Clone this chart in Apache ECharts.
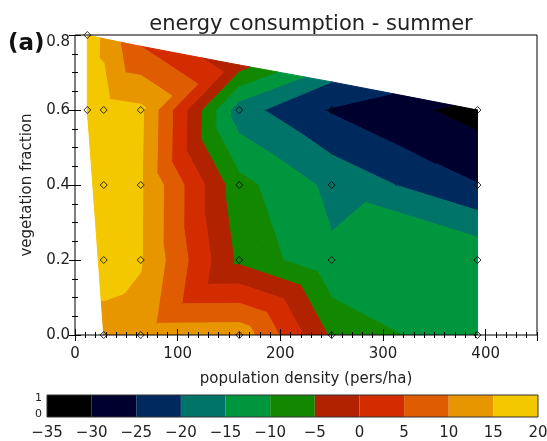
<!DOCTYPE html>
<html>
<head>
<meta charset="utf-8">
<script src="https://cdn.jsdelivr.net/npm/echarts@6/dist/echarts.min.js"></script>
<style>html,body{margin:0;padding:0;background:#fff}#c{width:547px;height:441px}</style>
</head>
<body>
<div id="c"></div>
<script>
// ---- data ----
const densities = [12, 28, 64, 160, 250, 392];           // pers/ha
const vegFractions = [0.0, 0.2, 0.4, 0.6];
const energyAtVeg00 = [null, 14.5, 13.0, 13.2, -5.8, -14.5];
const energyAtVeg02 = [null, 15.6, 15.4, -6.2, -14.2, -10.7];
const energyAtVeg04 = [null, 17.5, 15.5, -8.4, -16.3, -24.8];
const energyAtVeg06 = [17.7, 17.0, 16.0, -18.0, -25.5, -32.0];
const energyRows = [energyAtVeg00, energyAtVeg02, energyAtVeg04, energyAtVeg06];
// upper boundary of the sampled domain (maximum vegetation fraction for each density)
const maxVegFraction = [0.80, 0.79, 0.77, 0.72, 0.675, 0.60];
const energyAtMaxVeg = [18.0, 14.0, 5.0, -3.0, -20.0, -32.0];
// triangulation diagonal of each full grid cell: 1 = lower-left to upper-right, 0 = upper-left to lower-right
const cellDiagonals = [
  [null, 1, 1, 1, 0],
  [null, 1, 1, 1, 0],
  [null, 1, 1, 1, 0]
];
const levels = [-35, -30, -25, -20, -15, -10, -5, 0, 5, 10, 15, 20];
const levelColors = ['#000000', '#00002e', '#002a5e', '#007468', '#00963e', '#128800',
                     '#b02200', '#d22c00', '#e05c00', '#e89600', '#f3c800'];
const xTickValues = [0, 100, 200, 300, 400];
const yTickValues = [0.0, 0.2, 0.4, 0.6, 0.8];

// ---- triangulation of the irregular sample points ----
function node(c, r) {
  const v = energyRows[r][c];
  return v == null ? null : [densities[c], vegFractions[r], v];
}
function topNode(c) { return [densities[c], maxVegFraction[c], energyAtMaxVeg[c]]; }
const tris = [];
for (let r = 0; r < vegFractions.length - 1; r++) {
  for (let c = 0; c < densities.length - 1; c++) {
    const BL = node(c, r), BR = node(c + 1, r), TL = node(c, r + 1), TR = node(c + 1, r + 1);
    if (BL && BR && TL && TR) {
      if (cellDiagonals[r][c] === 1) { tris.push([BL, BR, TR], [BL, TR, TL]); }
      else { tris.push([BL, BR, TL], [BR, TR, TL]); }
    }
  }
}
// left hull fan: from the extra low-density node at the top grid row down column 1
{
  const top = vegFractions.length - 1;
  const apex = node(0, top);
  for (let r = 0; r < top; r++) tris.push([apex, node(1, r), node(1, r + 1)]);
}
// strip between the top grid row and the upper boundary
{
  const top = vegFractions.length - 1;
  for (let c = 0; c < densities.length - 1; c++) {
    const BL = node(c, top), BR = node(c + 1, top), TL = topNode(c), TR = topNode(c + 1);
    if (TR[1] <= BR[1]) { tris.push([BL, BR, TL]); }
    else { tris.push([BL, BR, TR], [BL, TR, TL]); }
  }
}

// ---- filled contour bands (linear interpolation inside each triangle) ----
function clip(poly, level, keepAbove) {
  const out = [];
  for (let i = 0; i < poly.length; i++) {
    const a = poly[i], b = poly[(i + 1) % poly.length];
    const ina = keepAbove ? a[2] >= level : a[2] <= level;
    const inb = keepAbove ? b[2] >= level : b[2] <= level;
    if (ina) out.push(a);
    if (ina !== inb) {
      const t = (level - a[2]) / (b[2] - a[2]);
      out.push([a[0] + t * (b[0] - a[0]), a[1] + t * (b[1] - a[1]), level]);
    }
  }
  return out;
}
const polys = [];
tris.forEach(tri => {
  levelColors.forEach((col, k) => {
    const lo = k === 0 ? -Infinity : levels[k];
    const hi = k === levelColors.length - 1 ? Infinity : levels[k + 1];
    let p = tri;
    if (isFinite(lo)) p = clip(p, lo, true);
    if (p.length >= 3 && isFinite(hi)) p = clip(p, hi, false);
    if (p.length >= 3) polys.push({ pts: p, color: col });
  });
});

// sample markers: grid nodes plus the boundary nodes that sit on a grid fraction
const samplePoints = [];
energyRows.forEach((row, r) => row.forEach((v, c) => { if (v != null) samplePoints.push([densities[c], vegFractions[r]]); }));
maxVegFraction.forEach((f, c) => {
  if (yTickValues.some(t => Math.abs(t - f) < 1e-9) && !vegFractions.some(t => Math.abs(t - f) < 1e-9)) samplePoints.push([densities[c], f]);
});

const bandData = levelColors.map((col, k) => [levels[k], levels[k + 1]]);

// ---- chart ----
const FONT = 'DejaVu Sans';
const TXT = '#222';
const chart = echarts.init(document.getElementById('c'));

function axisX(pos, interval, tickLen, labels, extra) {
  return Object.assign({
    gridIndex: 0, type: 'value', min: 0, max: 450, interval: interval, position: pos, z: 10,
    axisLine: { show: false },
    axisTick: { show: true, inside: true, length: tickLen, lineStyle: { color: '#000', width: 1 } },
    axisLabel: { show: labels },
    splitLine: { show: false }
  }, extra || {});
}
function axisY(pos, interval, tickLen, labels, extra) {
  return Object.assign({
    gridIndex: 0, type: 'value', min: 0, max: 0.8, interval: interval, position: pos, z: 10,
    axisLine: { show: false },
    axisTick: { show: true, inside: true, length: tickLen, lineStyle: { color: '#000', width: 1 } },
    axisLabel: { show: labels },
    splitLine: { show: false }
  }, extra || {});
}

chart.setOption({
  animation: false,
  backgroundColor: '#fff',
  title: {
    text: 'energy consumption - summer', left: 306, top: 9, textAlign: 'center',
    textStyle: { fontFamily: FONT, fontSize: 21, fontWeight: 'normal', color: TXT }
  },
  graphic: [{
    type: 'text', left: 8, top: 33, z: 20,
    style: { text: '(a)', font: 'bold 23px "DejaVu Sans"', fill: '#111' }
  }],
  grid: [
    { left: 75, top: 35, width: 462, height: 300, show: true, z: 5, backgroundColor: 'transparent',
      borderColor: '#000', borderWidth: 1, outerBoundsMode: 'none', containLabel: false },
    { left: 47, top: 395, width: 491, height: 22, show: true, z: 5, backgroundColor: 'transparent',
      borderColor: '#333', borderWidth: 1, outerBoundsMode: 'none', containLabel: false }
  ],
  xAxis: [
    axisX('bottom', 100, 6, true, {
      name: 'population density (pers/ha)', nameLocation: 'middle', nameGap: 37,
      nameTextStyle: { fontFamily: FONT, fontSize: 15, color: TXT },
      axisLabel: { show: true, fontFamily: FONT, fontSize: 15, color: TXT, margin: 12, showMaxLabel: false,
                   formatter: v => xTickValues.includes(v) ? String(v) : '' }
    }),
    axisX('bottom', 10, 3, false),
    axisX('top', 100, 6, false),
    axisX('top', 10, 3, false),
    { gridIndex: 1, type: 'value', min: -35, max: 20, interval: 5, position: 'bottom',
      axisLine: { show: false }, axisTick: { show: false }, splitLine: { show: false },
      axisLabel: { fontFamily: FONT, fontSize: 15, color: TXT, margin: 9,
                   formatter: v => v < 0 ? '\u2212' + Math.abs(v) : String(v) } }
  ],
  yAxis: [
    axisY('left', 0.2, 6, true, {
      name: 'vegetation fraction', nameLocation: 'middle', nameGap: 40,
      nameTextStyle: { fontFamily: FONT, fontSize: 15, color: TXT },
      axisLabel: { show: true, fontFamily: FONT, fontSize: 15, color: TXT, margin: 5,
                   formatter: v => {
                     const t = yTickValues.find(t => Math.abs(t - v) < 1e-6);
                     if (t === undefined) return '';
                     return t === yTickValues[yTickValues.length - 1] ? '{top|' + t.toFixed(1) + '}' : t.toFixed(1);
                   },
                   rich: { top: { fontFamily: FONT, fontSize: 15, color: TXT, padding: [14, 0, 0, 0] } } }
    }),
    axisY('left', 0.05, 3, false),
    axisY('right', 0.2, 6, false),
    axisY('right', 0.05, 3, false),
    { gridIndex: 1, type: 'value', min: 0, max: 1, interval: 1, position: 'left',
      axisLine: { show: false }, axisTick: { show: false }, splitLine: { show: false },
      axisLabel: { fontFamily: FONT, fontSize: 11, color: TXT, margin: 5,
                   formatter: v => v === 1 ? '{t|1}' : '{b|0}',
                   rich: { t: { fontFamily: FONT, fontSize: 11, color: TXT, padding: [6, 0, 0, 0] },
                           b: { fontFamily: FONT, fontSize: 11, color: TXT, padding: [0, 0, 6, 0] } } } }
  ],
  series: [
    {
      type: 'custom', xAxisIndex: 0, yAxisIndex: 0, clip: true, z: 2, silent: true,
      data: polys.map(p => [p.pts[0][0], p.pts[0][1]]),
      renderItem: (params, api) => {
        const p = polys[params.dataIndex];
        return {
          type: 'polygon',
          shape: { points: p.pts.map(q => api.coord([q[0], q[1]])) },
          style: { fill: p.color, stroke: p.color, lineWidth: 1, lineJoin: 'round' }
        };
      }
    },
    {
      type: 'scatter', xAxisIndex: 0, yAxisIndex: 0, z: 4, silent: true,
      symbol: 'diamond', symbolSize: 7,
      itemStyle: { color: 'rgba(0,0,0,0)', borderColor: '#000', borderWidth: 1 },
      data: samplePoints
    },
    {
      type: 'custom', xAxisIndex: 4, yAxisIndex: 4, z: 2, silent: true,
      data: bandData,
      renderItem: (params, api) => {
        const p0 = api.coord([api.value(0), 0]);
        const p1 = api.coord([api.value(1), 1]);
        return {
          type: 'rect',
          shape: { x: p0[0], y: p1[1], width: p1[0] - p0[0], height: p0[1] - p1[1] },
          style: { fill: levelColors[params.dataIndex] }
        };
      }
    }
  ]
});
</script>
</body>
</html>
